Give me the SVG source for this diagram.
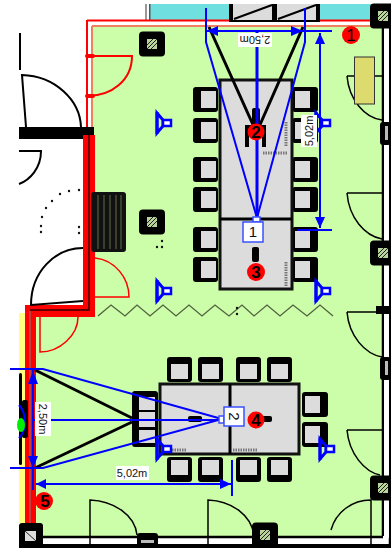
<svg xmlns="http://www.w3.org/2000/svg" xmlns:xlink="http://www.w3.org/1999/xlink" width="391" height="548" viewBox="0 0 391 548">
<style>
.k{fill:none;stroke:#000}
.d{stroke-width:1.5}
.r{fill:none;stroke:#f00}
.b{fill:none;stroke:#00f;stroke-width:2}
.bt{fill:none;stroke:#00f;stroke-width:3}
.ah{fill:#00f}
.inner{fill:#dcdcdc}
.lbl{font-family:"Liberation Sans",Arial,sans-serif;font-size:11px;fill:#111;text-anchor:middle}
.num{font-family:"Liberation Sans",Arial,sans-serif;font-size:17px;font-weight:bold;fill:#000;text-anchor:middle}
.box{fill:#fff;stroke:#3a50ff;stroke-width:1.5}
.tbl{fill:#dcdcdc;stroke:#111;stroke-width:3}
.dot{fill:#111}
.tiny{fill:none;stroke:#777;stroke-width:3;stroke-dasharray:1.500 1}
</style>
<defs>
<g id="pillar"><rect x="-13" y="-12.5" width="26" height="25" rx="4" fill="#000"/><rect x="-5" y="-5" width="10" height="10" fill="#b9d49a"/><path d="M-5 1L1-5M-5 5L5-5M-1 5L5-1" stroke="#222" stroke-width="1"/></g>
<g id="chairL"><rect x="0" y="0" width="25" height="25" rx="3" fill="#000"/><rect x="8" y="4" width="15" height="17" class="inner"/></g>
<g id="chairR"><rect x="0" y="0" width="26" height="25" rx="3" fill="#000"/><rect x="3" y="4" width="15" height="17" class="inner"/></g>
<g id="chairT"><rect x="0" y="0" width="25" height="25" rx="3" fill="#000"/><rect x="4" y="7" width="17" height="15" class="inner"/></g>
<g id="chairB"><rect x="0" y="0" width="25" height="25" rx="3" fill="#000"/><rect x="4" y="3" width="17" height="15" class="inner"/></g>
<g id="spk"><path d="M-3-10L3-3V3L-3 10Z" fill="none" stroke="#00f" stroke-width="3"/><path d="M-3-11V11" stroke="#00f" stroke-width="3"/><rect x="3" y="-3" width="8" height="6" fill="#fff" stroke="#00f" stroke-width="2.5"/></g>
</defs>
<rect width="391" height="548" fill="#fff"/>
<g id="room">
<path d="M92 27H385V536H36V317H92Z" fill="#ccfda8"/>
<rect x="150" y="4" width="222" height="16" fill="#70dfe0"/>
<rect x="145" y="4" width="2" height="16" fill="#999"/>
<rect x="149" y="4" width="1.5" height="16" fill="#555"/>
<rect x="19" y="313" width="6" height="210" fill="#ffff80"/>
</g>
<g id="walls">
<path d="M87 20.5H372M87 20V128" class="r" stroke-width="2"/>
<path d="M92 26H372M92 26V128" fill="none" stroke="#f08060" stroke-width="2"/>
<rect x="19" y="127" width="75" height="12" fill="#000"/>
<rect x="83" y="135" width="12" height="180" fill="#f00"/>
<rect x="25" y="305" width="70" height="12" fill="#f00"/>
<rect x="25" y="305" width="11" height="218" fill="#f00"/>
<path d="M89 135V310H30" fill="none" stroke="#300" stroke-width="1.5"/>
<path d="M30 311V523" fill="none" stroke="#a55" stroke-width="1.5"/>
<path d="M383 28V536M390 28V548M36 537H383M36 546H391" fill="none" stroke="#000" stroke-width="2.5"/>
<rect x="40" y="539" width="345" height="5" fill="#fff"/>
<rect x="384" y="28" width="5" height="510" fill="#fff"/>
<rect x="19" y="544" width="372" height="4" fill="#000"/>
<path d="M376 306H391V314H376Z" fill="#000"/>
</g>
<g id="top-units">
<rect x="229" y="4" width="91" height="18" fill="#000"/>
<rect x="233" y="4" width="39" height="16" class="inner"/><rect x="277" y="4" width="39" height="16" class="inner"/>
<path d="M234 19L272 5M278 19L316 5" class="k" stroke-width="2"/>
</g>
<g id="pillars">
<use xlink:href="#pillar" href="#pillar" x="152" y="44"/>
<use xlink:href="#pillar" href="#pillar" x="152" y="222"/>
<use xlink:href="#pillar" href="#pillar" x="383" y="16"/>
<use xlink:href="#pillar" href="#pillar" x="383" y="253"/>
<use xlink:href="#pillar" href="#pillar" x="383" y="488"/>
<rect x="19" y="523" width="24" height="25" rx="3" fill="#000"/><rect x="25" y="531" width="11" height="10" fill="#ddd"/><path d="M25 531L36 541" stroke="#222"/>
<use xlink:href="#pillar" href="#pillar" x="265" y="535"/>
<rect x="380" y="122" width="11" height="23" rx="3" fill="#000"/><rect x="385" y="126" width="3" height="14" fill="#bbb"/>
<rect x="380" y="357" width="11" height="23" rx="3" fill="#000"/><rect x="385" y="361" width="3" height="14" fill="#bbb"/>
<rect x="137" y="533" width="21" height="15" rx="3" fill="#000"/><rect x="141" y="540" width="13" height="3" fill="#bbb"/>
</g>
<g id="doors">
<path d="M20 33V70" class="k" stroke-width="2"/>
<path d="M26 127L22 75C55 76 80 100 81 127" class="k" stroke-width="2"/>
<path d="M19 151H41C41 168 30 180 19 184" class="k" stroke-width="2"/>
<path d="M83 248C55 248 31 272 31 305L83 301" class="k" stroke-width="2"/>
<path d="M347 76H382M347 76C349 100 365 118 382 120" class="k d"/>
<path d="M347 193H382M347 193C349 218 365 236 382 239" class="k d"/>
<path d="M347 312H382M347 312C349 336 365 354 382 357" class="k d"/>
<path d="M347 430H382M347 430C349 454 365 472 380 475" class="k d"/>
<path d="M331 530C336 512 352 500 371 500V548" class="k d"/>
<path d="M90 548V500C114 501 135 515 137 535" class="k d"/>
<path d="M208 548V500C232 501 251 515 254 535" class="k d"/>
<path d="M87 56H132C132 80 112 96 87 96" class="r" stroke-width="2"/>
<path d="M95 258C115 260 129 278 129 297H95" class="r" stroke-width="1.5"/>
<path d="M40 317V352C60 352 78 335 78 317" class="r" stroke-width="1.5"/>
<rect x="85" y="54" width="10" height="4" rx="2" fill="#f00"/><rect x="85" y="94" width="10" height="4" rx="2" fill="#f00"/>
</g>
<g id="cabinet"><rect x="354.500" y="57" width="20" height="47" fill="#dedb6e" stroke="#333" stroke-width="1"/></g>
<g id="radiator">
<rect x="91" y="192" width="35" height="60" rx="3" fill="#111"/>
<path d="M98 195V249M104 195V249M110 195V249M116 195V249M121 195V249" stroke="#607048" stroke-width="1"/>
</g>
<g id="zigzag"><path d="M98 316L111 305L125 316L137 305L150 316L163 305L176 316L189 305L202 316L215 305L229 316L242 305L254 316L267 305L280 316L293 305L307 316L320 305L333 316" fill="none" stroke="#506040" stroke-width="1.3"/></g>
<g id="dots" class="dot">
<circle cx="79" cy="190" r="1.2"/><circle cx="69" cy="191" r="1.2"/><circle cx="60" cy="194" r="1.2"/><circle cx="52" cy="201" r="1.2"/><circle cx="46" cy="208" r="1.2"/><circle cx="42" cy="217" r="1.2"/><circle cx="41" cy="226" r="1.2"/><circle cx="41" cy="232" r="1.2"/><circle cx="79" cy="227" r="1.2"/><circle cx="79" cy="233" r="1.2"/>
<circle cx="162" cy="241" r="1.2"/><circle cx="157" cy="247" r="1.2"/><circle cx="162" cy="247" r="1.2"/><circle cx="268" cy="242" r="1.2"/><circle cx="268" cy="247" r="1.2"/><circle cx="237" cy="308" r="1.2"/><circle cx="237" cy="314" r="1.2"/>
</g>
<g id="table-1">
<use xlink:href="#chairL" href="#chairL" x="193" y="87"/><use xlink:href="#chairL" href="#chairL" x="193" y="118"/><use xlink:href="#chairL" href="#chairL" x="193" y="157"/><use xlink:href="#chairL" href="#chairL" x="193" y="187"/><use xlink:href="#chairL" href="#chairL" x="193" y="227"/><use xlink:href="#chairL" href="#chairL" x="193" y="257"/>
<use xlink:href="#chairR" href="#chairR" x="292" y="87"/><use xlink:href="#chairR" href="#chairR" x="292" y="118"/><use xlink:href="#chairR" href="#chairR" x="292" y="157"/><use xlink:href="#chairR" href="#chairR" x="292" y="187"/><use xlink:href="#chairR" href="#chairR" x="292" y="227"/><use xlink:href="#chairR" href="#chairR" x="292" y="257"/>
<rect x="220" y="80" width="72" height="209" class="tbl"/>
<path d="M220 219H292" class="k" stroke-width="3"/>
<rect x="245" y="125" width="21" height="22" fill="#000"/><rect x="249" y="135" width="13" height="12" class="inner"/><rect x="252" y="108" width="8" height="18" rx="2" fill="#000"/>
<rect x="252" y="247" width="7" height="15" rx="2" fill="#000"/>
<path d="M286 262V286M286 122V146M263 153H287" class="tiny"/>
</g>
<g id="table-2">
<use xlink:href="#chairT" href="#chairT" x="167" y="357"/><use xlink:href="#chairT" href="#chairT" x="198" y="357"/><use xlink:href="#chairT" href="#chairT" x="236" y="357"/><use xlink:href="#chairT" href="#chairT" x="267" y="357"/>
<use xlink:href="#chairB" href="#chairB" x="167" y="457"/><use xlink:href="#chairB" href="#chairB" x="198" y="457"/><use xlink:href="#chairB" href="#chairB" x="236" y="457"/><use xlink:href="#chairB" href="#chairB" x="267" y="457"/>
<use xlink:href="#chairR" href="#chairR" x="302" y="392"/><use xlink:href="#chairR" href="#chairR" x="302" y="422"/>
<rect x="132" y="391" width="26" height="56" rx="3" fill="#000"/><rect x="139" y="397" width="16" height="13" class="inner"/><rect x="139" y="412" width="16" height="15" class="inner"/><rect x="139" y="430" width="16" height="13" class="inner"/>
<rect x="160" y="384" width="139" height="70" class="tbl"/>
<path d="M230 384V454" class="k" stroke-width="3"/>
<rect x="188" y="416" width="14" height="6" rx="2" fill="#000"/><rect x="262" y="416" width="10" height="6" rx="2" fill="#000"/>
<path d="M172 450H187M233 450H257" class="tiny"/>
</g>
<g id="screen-left">
<rect x="19" y="373" width="3" height="92" rx="1.5" fill="#000"/><rect x="22" y="400" width="6" height="38" rx="2" fill="#000"/>
<path d="M19 405C27 414 27 430 19 438" fill="none" stroke="#00f" stroke-width="2"/>
<ellipse cx="21" cy="425" rx="4" ry="7" fill="#0e0"/>
</g>
<g id="connectors">
<path d="M209 27L254 127M303 27L259 127M35 370L132 418M35 468L132 422" class="k" stroke-width="3"/>
<path d="M206 8V42L257 218M305 8V42L257 218" class="b"/>
<path d="M257 32V218" class="bt"/>
<path d="M207 31H332M320 33V228M297 230H332" class="b"/>
<path d="M207 31L218 26V36ZM303 31L291 26V36ZM320 33L315 44H325ZM320 228L315 217H325Z" class="ah"/>
<path d="M10 369H43L222 419L43 468H10M33 420H222" class="b"/>
<path d="M33 369V490M36 484H232M232 460V496" class="b"/>
<path d="M33 371L28 384H38ZM33 468L28 456H38ZM36 484L46 479V489ZM231 484L220 479V489Z" class="ah"/>
</g>
<g id="speakers">
<use xlink:href="#spk" href="#spk" x="160" y="123"/><use xlink:href="#spk" href="#spk" x="319" y="123"/>
<use xlink:href="#spk" href="#spk" x="160" y="291"/><use xlink:href="#spk" href="#spk" x="319" y="291"/>
<use xlink:href="#spk" href="#spk" x="160" y="449"/><use xlink:href="#spk" href="#spk" x="323" y="449"/>
</g>
<g id="labels">
<g id="dim-250-top"><rect x="238" y="33" width="34" height="14" fill="#fff"/><text class="lbl" transform="translate(255 36) rotate(180)">2,50m</text></g>
<g id="dim-502-top"><rect x="301" y="115" width="16" height="32" fill="#fff"/><text class="lbl" transform="translate(313 131) rotate(-90)">5,02m</text></g>
<g id="dim-250-left"><rect x="35" y="402" width="16" height="34" fill="#fff"/><text class="lbl" transform="translate(39 419) rotate(90)">2,50m</text></g>
<g id="dim-502-left"><rect x="116" y="466" width="33" height="14" fill="#fff"/><text class="lbl" x="132" y="477">5,02m</text></g>
</g>
<g id="marker-1"><rect x="253" y="217" width="7" height="5" class="box"/><rect x="243" y="222" width="20" height="20" class="box"/><text class="lbl" x="253" y="237" style="font-size:15px">1</text></g>
<g id="marker-2"><rect x="219" y="416" width="5" height="7" class="box"/><rect x="224" y="407" width="20" height="19" class="box"/><text class="lbl" transform="translate(229 416.500) rotate(90)" style="font-size:15px">2</text></g>
<g id="point-1"><circle cx="351" cy="35" r="9" fill="#f00"/><text class="num" x="351" y="41" style="font-weight:normal">1</text></g>
<g id="point-2"><circle cx="256" cy="132" r="8.500" fill="#f00"/><text class="num" x="256" y="138">2</text></g>
<g id="point-3"><circle cx="256" cy="272" r="9" fill="#f00"/><text class="num" x="256" y="278">3</text></g>
<g id="point-4"><circle cx="256" cy="420" r="8.500" fill="#f00"/><text class="num" x="256" y="426">4</text></g>
<g id="point-5"><circle cx="44" cy="501" r="9" fill="#f00"/><text class="num" x="45" y="507">5</text></g>
</svg>
